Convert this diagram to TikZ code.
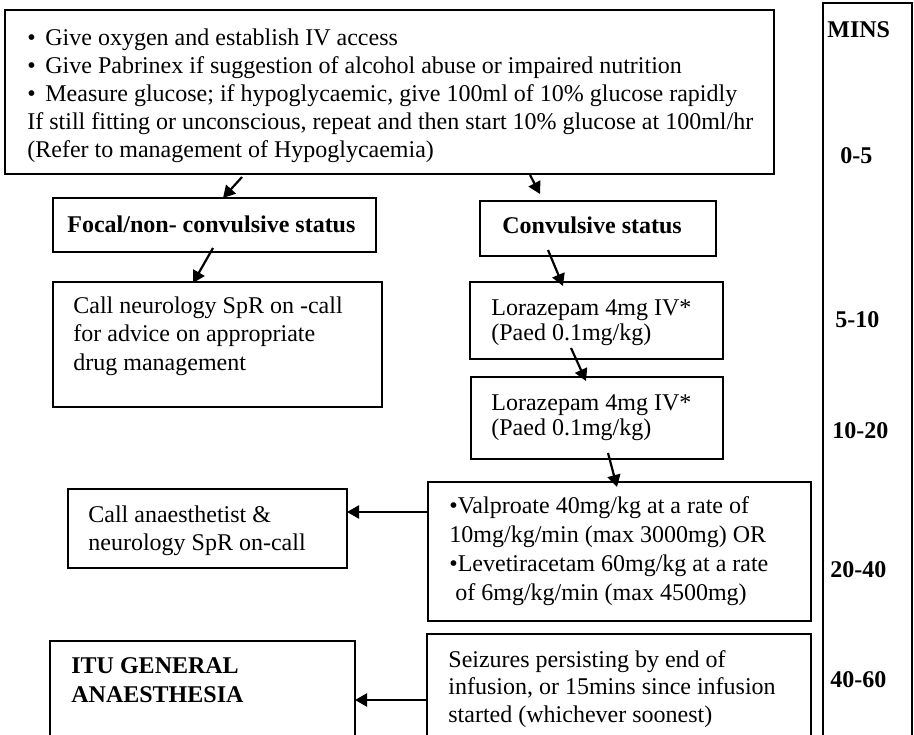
\documentclass[tikz,border=0pt]{standalone}
\usepackage{fontspec}
\setmainfont{Liberation Serif}
\usetikzlibrary{arrows.meta,fit,calc}
\newcommand\mybul{\makebox[9pt][l]{•}}
\newcommand\mlines[1]{\begin{tabular}[t]{@{}l@{}}#1\end{tabular}}
\begin{document}
\begin{tikzpicture}[x=0.5pt,y=-0.5pt,
  boxst/.style={draw, line width=0.8pt, inner sep=0pt, outer sep=0pt},
  txt/.style={anchor=base west, inner sep=0pt, font=\fontsize{12}{14}\selectfont},
  boldtxt/.style={anchor=base west, inner sep=0pt, font=\fontsize{12}{14}\selectfont\bfseries},
  arr/.style={line width=1.1pt, -{Triangle[length=6pt,width=6.5pt]}}]
\clip (0,0) rectangle (914,734);
\fill[white] (0,0) rectangle (914,734);

% boxes
\node[boxst, line width=1pt, fit={(5,10) (774,174)}] (top) {};
\node[boxst, fit={(823,3) (912,760)}] (mins) {};
\node[boxst, fit={(53,198) (376,252)}] (focal) {};
\node[boxst, fit={(53,282) (382,407)}] (neuro) {};
\node[boxst, fit={(480,201) (716,256)}] (conv) {};
\node[boxst, fit={(470,282) (723,359)}] (lor1) {};
\node[boxst, fit={(471,377) (723,459)}] (lor2) {};
\node[boxst, fit={(428,482) (811,621)}] (valp) {};
\node[boxst, fit={(68,489) (347,568)}] (anaes) {};
\node[boxst, fit={(427,634) (811,760)}] (seiz) {};
\node[boxst, fit={(50,641) (355,760)}] (itu) {};

% texts
\node[txt] (ttop) at (27,45) {\mlines{\mybul Give oxygen and establish IV access\\
\mybul Give Pabrinex if suggestion of alcohol abuse or impaired nutrition\\
\mybul Measure glucose; if hypoglycaemic, give 100ml of 10\% glucose rapidly\\
If still fitting or unconscious, repeat and then start 10\% glucose at 100ml/hr\\
(Refer to management of Hypoglycaemia)}};
\node[boldtxt] (tfocal) at (67,232) {Focal/non- convulsive status};
\node[boldtxt] (tconv) at (502,233) {Convulsive status};
\node[txt, font=\fontsize{12}{14.25}\selectfont] (tneuro) at (73,313) {\mlines{Call neurology SpR on -call\\ for advice on appropriate\\ drug management}};
\node[txt, font=\fontsize{12}{12.5}\selectfont] (tlor1) at (491,315) {\mlines{Lorazepam 4mg IV*\\ (Paed 0.1mg/kg)}};
\node[txt, font=\fontsize{12}{12.5}\selectfont] (tlor2) at (491,410) {\mlines{Lorazepam 4mg IV*\\ (Paed 0.1mg/kg)}};
\node[txt, font=\fontsize{12}{14.5}\selectfont] (tvalp) at (449,513) {\mlines{•Valproate 40mg/kg at a rate of\\ 10mg/kg/min (max 3000mg) OR\\ •Levetiracetam 60mg/kg at a rate\\ \hspace{3pt}of 6mg/kg/min (max 4500mg)}};
\node[txt] (tanaes) at (88,522) {\mlines{Call anaesthetist \&\\ neurology SpR on-call}};
\node[txt, font=\fontsize{12}{13.75}\selectfont] (tseiz) at (448,667) {\mlines{Seizures persisting by end of\\ infusion, or 15mins since infusion\\ started (whichever soonest)}};
\node[boldtxt, font=\fontsize{12}{14.5}\selectfont\bfseries] (titu) at (71,673) {\mlines{ITU GENERAL\\ ANAESTHESIA}};

% time column
\node[boldtxt] (m0) at (827,37) {MINS};
\node[boldtxt] (m1) at (840,163) {0-5};
\node[boldtxt] (m2) at (835,327) {5-10};
\node[boldtxt] (m3) at (832,438) {10-20};
\node[boldtxt] (m4) at (830,577) {20-40};
\node[boldtxt] (m5) at (830,687) {40-60};

% connectors (offsets in px, y downwards)
\draw[arr] ($(top.south west)+(237,3)$) -- ($(focal.north west)+(170,0)$);
\draw[arr] ($(top.south west)+(525,1)$) -- ($(conv.north west)+(60,-7)$);
\draw[arr] ($(focal.south west)+(160,-4)$) -- ($(neuro.north west)+(140,1)$);
\draw[arr] ($(conv.south west)+(68,-6)$) -- ($(lor1.north west)+(93,4)$);
\draw[arr] ($(lor1.south west)+(101,-11)$) -- ($(lor2.north west)+(115,4)$);
\draw[arr] ($(lor2.south west)+(137,-6)$) -- ($(valp.north west)+(189,5)$);
\draw[arr] (valp.west |- 0,512) -- (anaes.east |- 0,512);
\draw[arr] (seiz.west |- 0,700) -- (itu.east |- 0,700);
\end{tikzpicture}
\end{document}
